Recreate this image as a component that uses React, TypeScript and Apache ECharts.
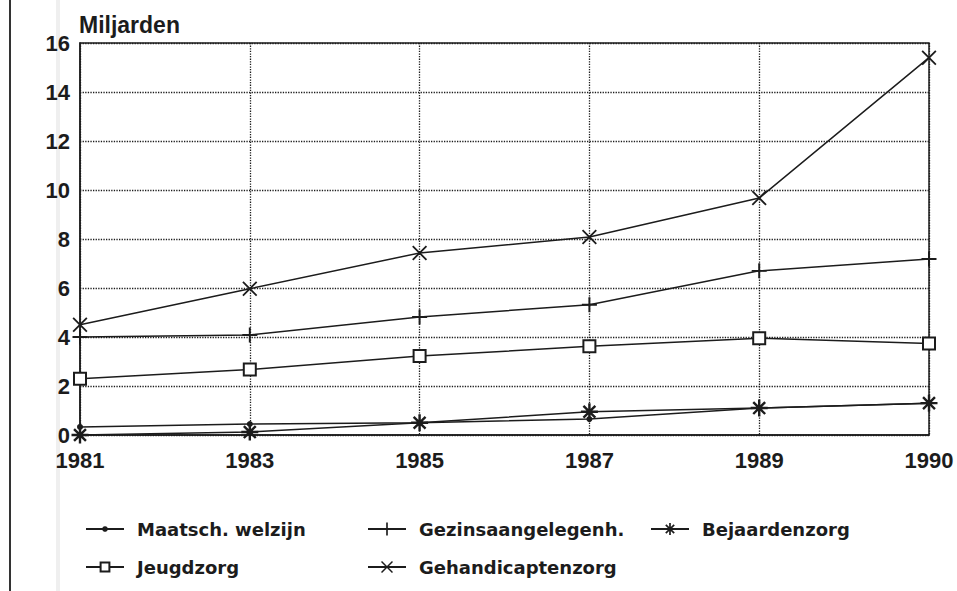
import React, { useEffect, useRef } from "react";
import * as echarts from "echarts";

const years = ["1981", "1983", "1985", "1987", "1989", "1990"];
const maatschWelzijn = [0.33, 0.45, 0.5, 0.65, 1.1, 1.3];
const gezinsaangelegenh = [4.0, 4.08, 4.82, 5.32, 6.7, 7.18];
const bejaardenzorg = [0.0, 0.12, 0.5, 0.95, 1.1, 1.3];
const jeugdzorg = [2.3, 2.67, 3.22, 3.62, 3.95, 3.73];
const gehandicaptenzorg = [4.5, 5.97, 7.43, 8.08, 9.67, 15.4];
const yTicks = { min: 0, max: 16, interval: 2 };

const INK = "#1c1c1c";
const PLUS = "path://M-1.3,-10H1.3V-1.3H10V1.3H1.3V10H-1.3V1.3H-10V-1.3H-1.3Z";
const CROSS =
  "path://M-10,-8.3L-8.3,-10L0,-1.7L8.3,-10L10,-8.3L1.7,0L10,8.3L8.3,10L0,1.7L-8.3,10L-10,8.3L-1.7,0Z";
const STAR =
  "path://M-1.4,-10H1.4V-1.4H10V1.4H1.4V10H-1.4V1.4H-10V-1.4H-1.4Z" +
  "M-8,-6L-6,-8L0,-2L6,-8L8,-6L2,0L8,6L6,8L0,2L-6,8L-8,6L-2,0Z";

const legendFont = {
  fontFamily: "DejaVu Sans",
  fontWeight: "bold" as const,
  fontSize: 18,
  color: INK,
  padding: [0, 0, 0, 8],
};

export default function App() {
  const ref = useRef<HTMLDivElement>(null);
  useEffect(() => {
    if (!ref.current) return;
    const chart = echarts.init(ref.current, undefined, { renderer: "svg" });
    const mk = (name: string, data: number[], symbol: string, size: number) => ({
      name,
      type: "line",
      data,
      symbol,
      symbolSize: size,
      showSymbol: true,
      lineStyle: { color: INK, width: 1.5 },
      itemStyle: { color: INK, borderWidth: symbol === "emptyRect" ? 1.4 : 0 },
      emphasis: { disabled: true },
      z: 3,
    });
    const legendBase = {
      itemWidth: 38,
      textStyle: legendFont,
      selectedMode: false,
      orient: "horizontal",
    };
    chart.setOption({
      animation: false,
      backgroundColor: "#fff",
      title: {
        text: "Miljarden",
        left: 74,
        top: 8,
        textStyle: {
          fontFamily: "Liberation Sans",
          fontWeight: "bold",
          fontSize: 23,
          color: INK,
        },
      },
      grid: {
        left: 80,
        right: 28,
        top: 43,
        bottom: 156,
        show: true,
        borderColor: INK,
        borderWidth: 1.5,
        backgroundColor: "transparent",
      },
      xAxis: {
        type: "category",
        data: years,
        boundaryGap: false,
        axisLine: { show: true, lineStyle: { color: INK, width: 1.5 } },
        axisTick: { show: false },
        axisLabel: {
          margin: 14,
          fontFamily: "Liberation Sans",
          fontWeight: "bold",
          fontSize: 22,
          color: INK,
        },
        splitLine: { show: true, lineStyle: { type: "dotted", color: INK, width: 1.3 } },
      },
      yAxis: {
        type: "value",
        min: yTicks.min,
        max: yTicks.max,
        interval: yTicks.interval,
        axisLine: { show: true, lineStyle: { color: INK, width: 1.5 } },
        axisTick: { show: false },
        axisLabel: {
          margin: 10,
          fontFamily: "Liberation Sans",
          fontWeight: "bold",
          fontSize: 22,
          color: INK,
        },
        splitLine: { show: true, lineStyle: { type: "dotted", color: INK, width: 1.3 } },
      },
      legend: [
        { ...legendBase, itemHeight: 7, data: ["Maatsch. welzijn"], left: 80, top: 515 },
        { ...legendBase, itemHeight: 16, data: ["Gezinsaangelegenh."], left: 362, top: 515 },
        { ...legendBase, itemHeight: 15, data: ["Bejaardenzorg"], left: 645, top: 515 },
        { ...legendBase, itemHeight: 11, data: ["Jeugdzorg"], left: 80, top: 553 },
        { ...legendBase, itemHeight: 15, data: ["Gehandicaptenzorg"], left: 362, top: 553 },
      ],
      graphic: [
        { type: "line", shape: { x1: 10, y1: 0, x2: 10, y2: 591 }, style: { stroke: "#333", lineWidth: 2 } },
        { type: "line", shape: { x1: 58, y1: 0, x2: 58, y2: 591 }, style: { stroke: "#efefef", lineWidth: 4 } },
      ],
      series: [
        mk("Maatsch. welzijn", maatschWelzijn, "circle", 6),
        mk("Gezinsaangelegenh.", gezinsaangelegenh, PLUS, 15),
        mk("Bejaardenzorg", bejaardenzorg, STAR, 17),
        mk("Jeugdzorg", jeugdzorg, "emptyRect", 12),
        mk("Gehandicaptenzorg", gehandicaptenzorg, CROSS, 15),
      ],
    });
    return () => chart.dispose();
  }, []);
  return (
    <div
      ref={ref}
      style={{ position: "fixed", left: 0, top: 0, width: 957, height: 591, background: "#fff" }}
    />
  );
}
